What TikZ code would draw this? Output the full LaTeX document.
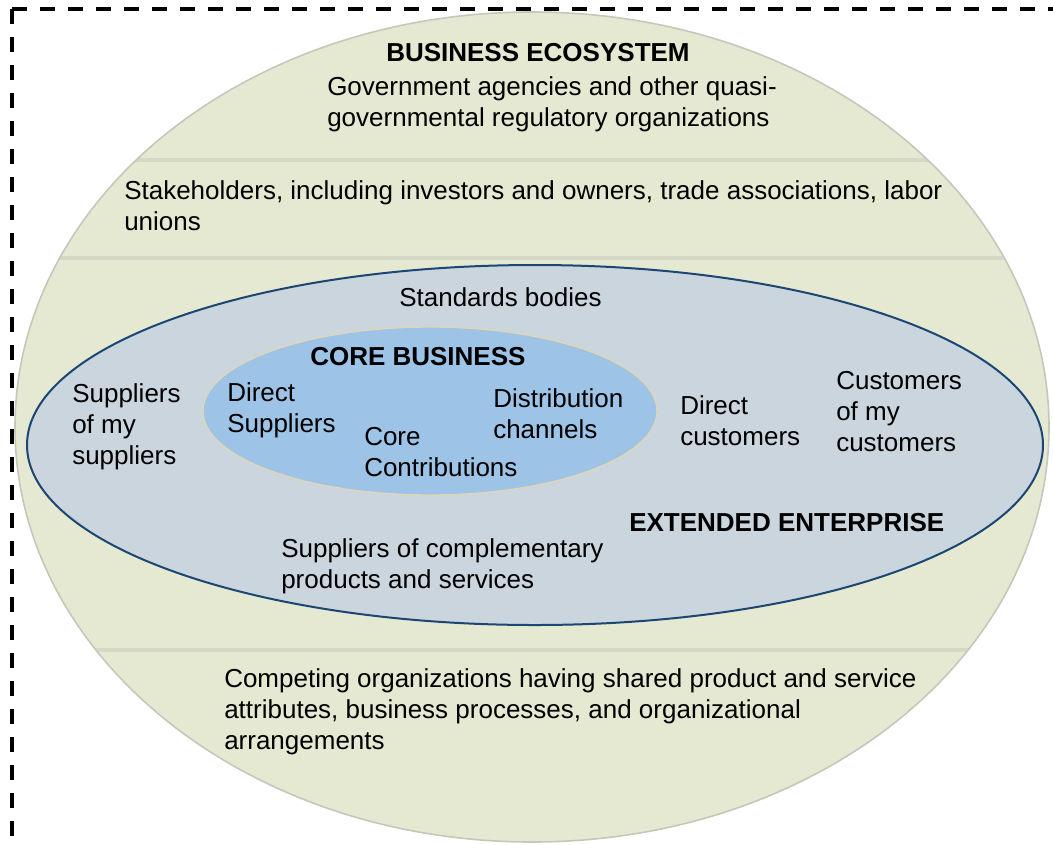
\documentclass[tikz,border=0pt]{standalone}
\usepackage{fontspec}
\setmainfont{Liberation Sans}
\definecolor{ecofill}{RGB}{229,233,209}
\definecolor{ecoline}{RGB}{198,199,186}
\definecolor{sepline}{RGB}{214,216,199}
\definecolor{extfill}{RGB}{202,213,222}
\definecolor{extline}{RGB}{28,70,115}
\definecolor{corefill}{RGB}{157,195,230}
\definecolor{coreline}{RGB}{222,214,182}
\begin{document}
\begin{tikzpicture}[x=0.75pt,y=-0.75pt,
  txt/.style={anchor=north west, inner sep=0pt, align=left, font=\fontsize{19.5pt}{23.25pt}\selectfont},
  ttl/.style={anchor=north west, inner sep=0pt, align=left, font=\fontsize{19.5pt}{23.25pt}\selectfont\bfseries},
  border/.style={line width=3pt, dash pattern=on 11.25pt off 9.75pt},
  sep/.style={draw=sepline, line width=2.5pt}]
\useasboundingbox (0,0) rectangle (1053,844);
% dashed frame (top and left sides)
\coordinate (corner) at (12,9);
\coordinate (topend) at (1060,9);
\coordinate (leftend) at (12,850);
\draw[border] (corner) -- (topend);
\draw[border] (corner) -- (leftend);
% business ecosystem
\coordinate (eco) at (532,427);
\fill[ecofill] (eco) ellipse [x radius=387.75pt, y radius=311.25pt];
\begin{scope}
  \clip (eco) ellipse [x radius=387.75pt, y radius=311.25pt];
  \draw[sep] (0,160) -- (1053,160);
  \draw[sep] (0,258) -- (1053,258);
  \draw[sep] (0,650) -- (1053,650);
\end{scope}
\draw[ecoline, line width=1.2pt] (eco) ellipse [x radius=387.75pt, y radius=311.25pt];
% extended enterprise
\coordinate (ext) at (535,445);
\draw[extline, fill=extfill, line width=1.5pt] (ext) ellipse [x radius=381pt, y radius=135pt];
% core business
\coordinate (core) at (430,411);
\draw[coreline, fill=corefill, line width=1pt] (core) ellipse [x radius=170.25pt, y radius=63pt];
% texts
\node[ttl] (t1) at (386,43) {BUSINESS ECOSYSTEM};
\node[txt] (t2) at (327,76) {Government agencies and other quasi-\\governmental regulatory organizations};
\node[txt] (t3) at (124,180) {Stakeholders, including investors and owners, trade associations, labor\\unions};
\node[txt] (t4) at (399,287) {Standards bodies};
\node[ttl] (t5) at (310,347) {CORE BUSINESS};
\node[txt] (t6) at (72,383) {Suppliers\\of my\\suppliers};
\node[txt] (t7) at (227,382) {Direct\\Suppliers};
\node[txt] (t8) at (364,427) {Core\\Contributions};
\node[txt] (t9) at (493,388) {Distribution\\channels};
\node[txt] (t10) at (680,395) {Direct\\customers};
\node[txt] (t11) at (836,371) {Customers\\of my\\customers};
\node[ttl] (t12) at (629,513) {EXTENDED ENTERPRISE};
\node[txt] (t13) at (281,538) {Suppliers of complementary\\products and services};
\node[txt] (t14) at (224,668) {Competing organizations having shared product and service\\attributes, business processes, and organizational\\arrangements};
\end{tikzpicture}
\end{document}
